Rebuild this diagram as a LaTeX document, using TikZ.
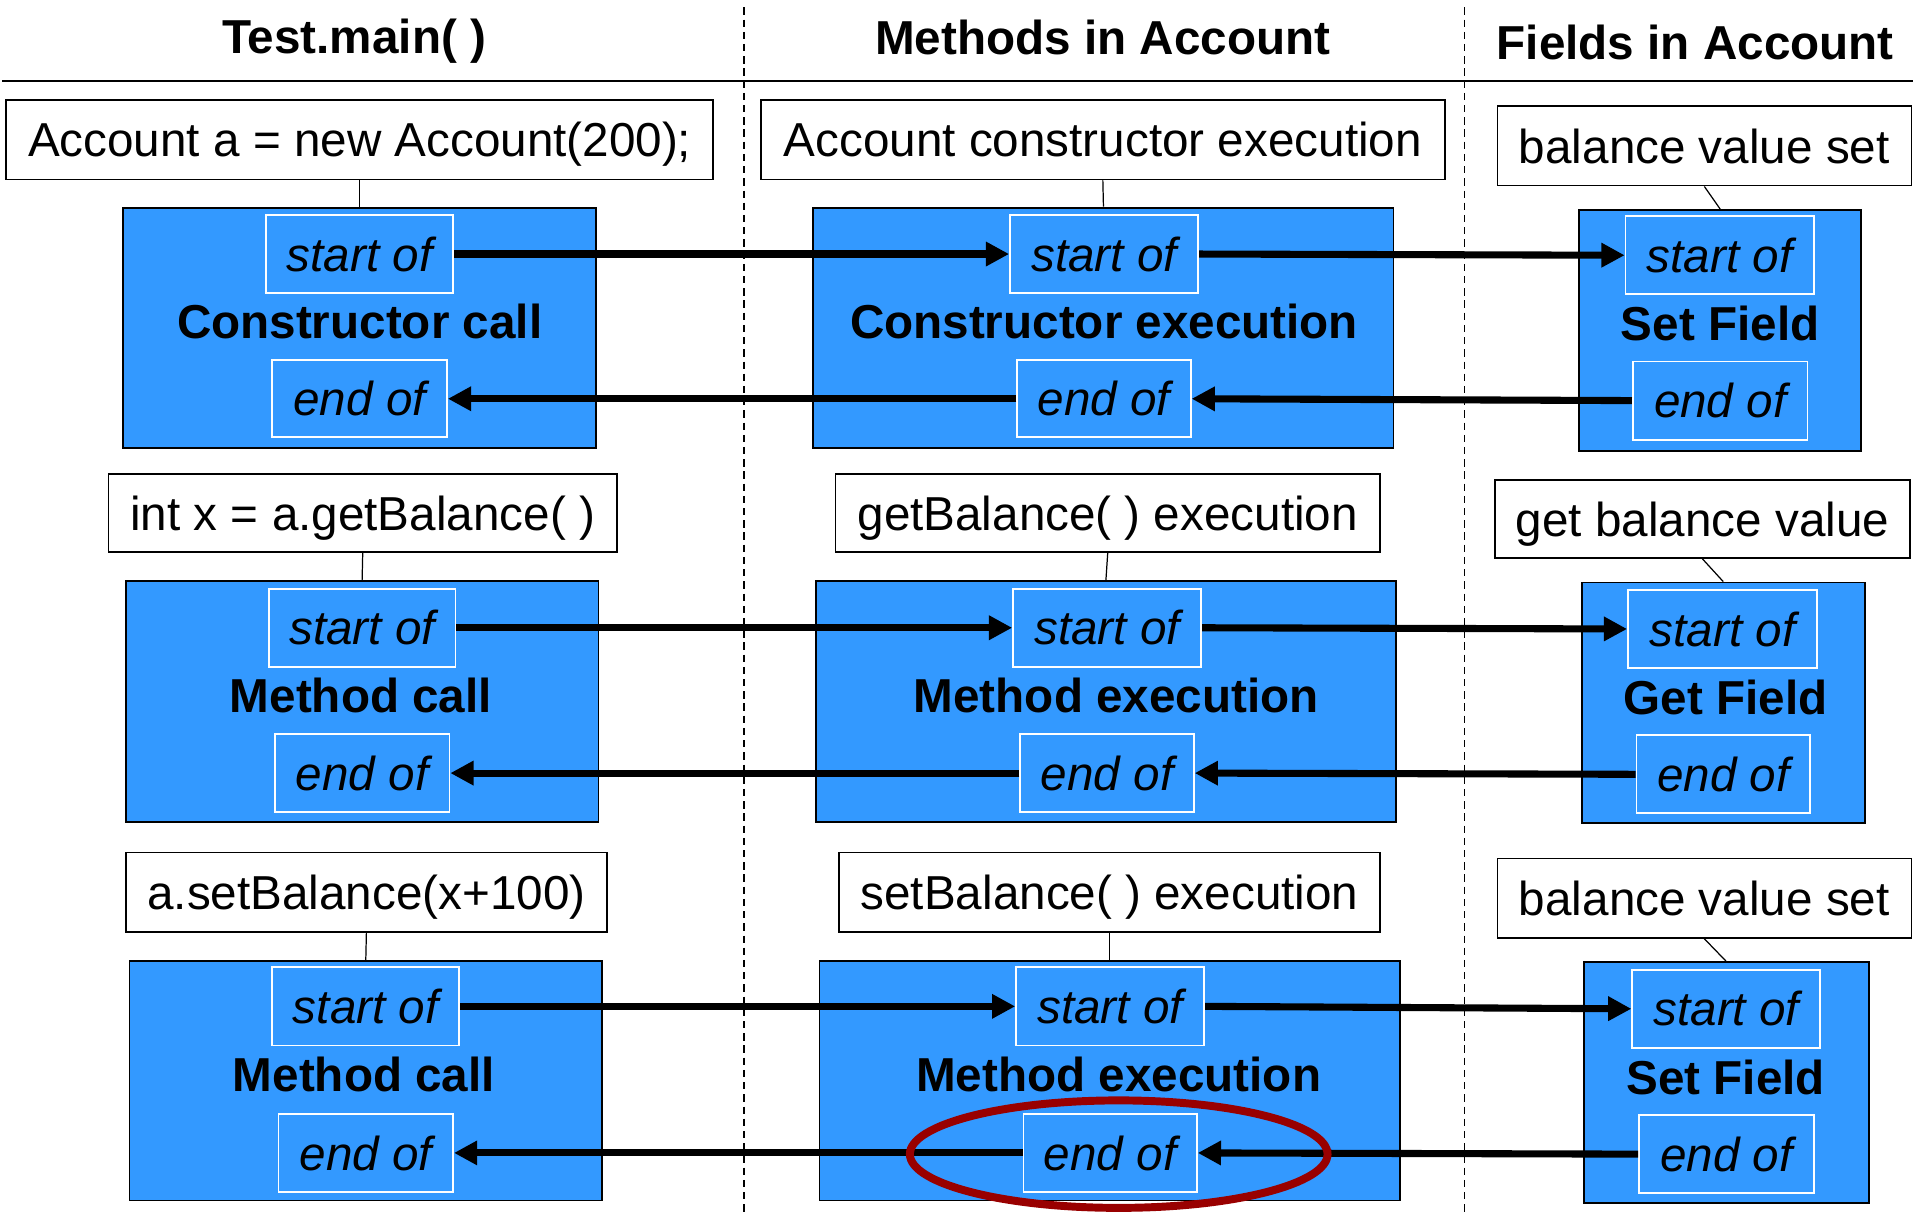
\documentclass[tikz,border=0pt]{standalone}
\usepackage{fontspec}
\setmainfont{Liberation Sans}
\usetikzlibrary{arrows.meta,shapes.geometric}
\definecolor{callblue}{RGB}{51,153,255}
\definecolor{ringred}{RGB}{153,0,0}
\begin{document}
\begin{tikzpicture}[x=1pt,y=-1pt,
  every node/.style={font=\fontsize{39pt}{44pt}\selectfont, inner sep=0pt},
  lbl/.style={draw=black, line width=1.3pt, fill=white, text height=36pt, text depth=8pt},
  blk/.style={draw=black, line width=1.5pt, fill=callblue},
  pt/.style={draw=white, line width=1.5pt, fill=callblue, text height=36pt, text depth=8pt,
             font=\fontsize{39pt}{44pt}\selectfont\itshape},
  ttl/.style={anchor=base, font=\fontsize{39pt}{44pt}\selectfont\bfseries},
  hdr/.style={anchor=base, font=\fontsize{39pt}{44pt}\selectfont\bfseries},
  sz/.style 2 args={minimum width=#1pt, minimum height=#2pt},
  tie/.style={draw=black, line width=1pt},
  flow/.style={draw=black, line width=5.8pt, -{Triangle[length=19pt,width=19pt]}},
  sep/.style={draw=black, line width=1.2pt, dash pattern=on 6pt off 4pt}]
\useasboundingbox (0,0) rectangle (1568,995);

% column headers and separators
\node[hdr] (h1) at (290,44) {Test.main( )};
\node[hdr] (h2) at (903,45) {Methods in Account};
\node[hdr] (h3) at (1388,49) {Fields in Account};
\coordinate (rl) at (2,66);
\coordinate (rr) at (1566,66);
\draw[line width=1.5pt] (rl) -- (rr);
\coordinate (d1t) at (609,6);
\coordinate (d1b) at (609,995);
\coordinate (d2t) at (1199,6);
\coordinate (d2b) at (1199,995);
\draw[sep] (d1t) -- (d1b);
\draw[sep] (d2t) -- (d2b);

% ---- constructor call ----
\node[lbl, sz={579}{65}] (l11) at (294.5,114.5) {Account a = new Account(200);};
\node[lbl, sz={560}{65}] (l12) at (903,114.5) {Account constructor execution};
\node[lbl, sz={339}{65}] (l13) at (1395.5,119.5) {balance value set};
\node[blk, sz={387}{197}] (b11) at (294.5,268.5) {};
\node[blk, sz={475}{197}] (b12) at (903.5,268.5) {};
\node[blk, sz={231}{197}] (b13) at (1408.5,270.5) {};
\draw[tie] (l11.south) -- (b11.north);
\draw[tie] (l12.south) -- (b12.north);
\draw[tie] (l13.south) -- (b13.north);
\node[pt, sz={153}{64}] (s11) at (294.5,208) {start of};
\node[pt, sz={143}{63}] (e11) at (294.5,326.5) {end of};
\node[pt, sz={154}{64}] (s12) at (904,208) {start of};
\node[pt, sz={142}{63}] (e12) at (904,326.5) {end of};
\node[pt, sz={154}{64}] (s13) at (1408,209) {start of};
\node[pt, sz={143}{64}] (e13) at (1408.5,328) {end of};
\node[ttl] (t11) at (294.5,277) {Constructor call};
\node[ttl] (t12) at (904,277) {Constructor execution};
\node[ttl] (t13) at (1408.5,279) {Set Field};
\draw[flow] (s11.east) -- (s12.west);
\draw[flow] (s12.east) -- (s13.west);
\draw[flow] (e13.west) -- (e12.east);
\draw[flow] (e12.west) -- (e11.east);

% ---- getBalance call ----
\node[lbl, sz={416}{64}] (l21) at (297,420) {int x = a.getBalance( )};
\node[lbl, sz={446}{64}] (l22) at (907,420) {getBalance( ) execution};
\node[lbl, sz={340}{64}] (l23) at (1394,425) {get balance value};
\node[blk, sz={387}{197}] (b21) at (296.5,574.5) {};
\node[blk, sz={475}{197}] (b22) at (905.5,574.5) {};
\node[blk, sz={232}{197}] (b23) at (1411,575.5) {};
\draw[tie] (l21.south) -- (b21.north);
\draw[tie] (l22.south) -- (b22.north);
\draw[tie] (l23.south) -- (b23.north);
\node[pt, sz={153}{64}] (s21) at (296.5,514) {start of};
\node[pt, sz={143}{64}] (e21) at (296.5,633) {end of};
\node[pt, sz={154}{64}] (s22) at (906.5,514) {start of};
\node[pt, sz={142}{64}] (e22) at (906.5,633) {end of};
\node[pt, sz={155}{64}] (s23) at (1410.5,515) {start of};
\node[pt, sz={142}{64}] (e23) at (1411,634) {end of};
\node[ttl] (t21) at (295.5,583) {Method call};
\node[ttl] (t22) at (914,583) {Method execution};
\node[ttl] (t23) at (1413,585) {Get Field};
\draw[flow] (s21.east) -- (s22.west);
\draw[flow] (s22.east) -- (s23.west);
\draw[flow] (e23.west) -- (e22.east);
\draw[flow] (e22.west) -- (e21.east);

% ---- setBalance call ----
\node[lbl, sz={394}{65}] (l31) at (300,730.5) {a.setBalance(x+100)};
\node[lbl, sz={443}{65}] (l32) at (908.5,730.5) {setBalance( ) execution};
\node[lbl, sz={339}{65}] (l33) at (1395.5,735.5) {balance value set};
\node[blk, sz={387}{196}] (b31) at (299.5,885) {};
\node[blk, sz={475}{196}] (b32) at (908.5,885) {};
\node[blk, sz={233}{197}] (b33) at (1413.5,886.5) {};
\draw[tie] (l31.south) -- (b31.north);
\draw[tie] (l32.south) -- (b32.north);
\draw[tie] (l33.south) -- (b33.north);
\node[pt, sz={153}{64}] (s31) at (299.5,824) {start of};
\node[pt, sz={143}{64}] (e31) at (299.5,944) {end of};
\node[pt, sz={154}{64}] (s32) at (909,824) {start of};
\node[pt, sz={142}{64}] (e32) at (909,944) {end of};
\node[pt, sz={154}{64}] (s33) at (1413.5,826) {start of};
\node[pt, sz={143}{64}] (e33) at (1413.5,945) {end of};
\node[ttl] (t31) at (298,894) {Method call};
\node[ttl] (t32) at (916,894) {Method execution};
\node[ttl] (t33) at (1413,896) {Set Field};
\draw[flow] (s31.east) -- (s32.west);
\draw[flow] (s32.east) -- (s33.west);
\draw[flow] (e33.west) -- (e32.east);
\draw[flow] (e32.west) -- (e31.east);

% highlight around the return from setBalance
\node[ellipse, draw=ringred, line width=6.5pt, minimum width=342pt, minimum height=88pt] (ring) at (916,945) {};
\end{tikzpicture}
\end{document}
